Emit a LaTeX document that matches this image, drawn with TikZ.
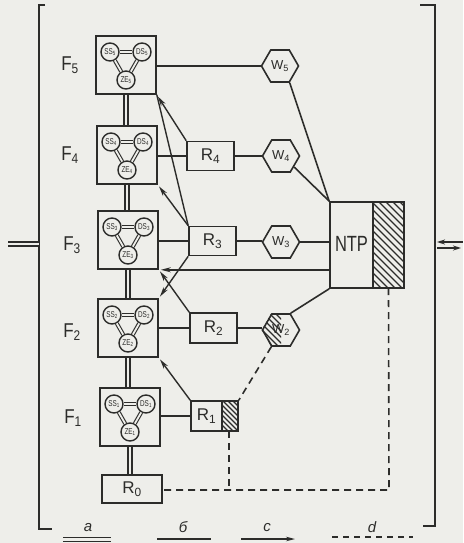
\documentclass[tikz,border=0pt]{standalone}
\usepackage{fontspec}
\setmainfont{Liberation Sans}
\usetikzlibrary{arrows.meta,shapes.geometric,calc}
\definecolor{paper}{HTML}{EEEEEA}
\definecolor{ink}{HTML}{2C2C2A}
\newcommand\cl[2]{\scalebox{0.75}[1]{#1\textsubscript{#2}}}
\newcommand\fblk[2]{%
  \node[fbox] (F#1) at (#2) {};
  \node[circ] (F#1s) at ($(F#1)+(-16,-13)$) {\cl{SS}{#1}};
  \node[circ] (F#1d) at ($(F#1)+(16,-13)$) {\cl{DS}{#1}};
  \node[circ] (F#1z) at ($(F#1)+(0,15)$) {\cl{ZE}{#1}};
  \draw[dblt] (F#1s) -- (F#1d);
  \draw[dblt] (F#1s) -- (F#1z);
  \draw[dblt] (F#1d) -- (F#1z);
}
\tikzset{
  ln/.style={draw=ink,line width=1.6pt},
  fbox/.style={draw=ink,line width=1.6pt,minimum width=60pt,minimum height=58pt,inner sep=0pt},
  rbox/.style={draw=ink,line width=1.6pt,minimum width=47pt,minimum height=29pt,inner sep=0pt,text=ink,font=\fontsize{17}{17}\selectfont},
  hexa/.style={draw=ink,line width=1.6pt,regular polygon,regular polygon sides=6,minimum size=37pt,inner sep=0pt,text=ink,font=\fontsize{13}{13}\selectfont},
  circ/.style={draw=ink,line width=1.4pt,circle,minimum size=18pt,inner sep=0pt,text=ink,font=\fontsize{8.5}{8.5}\selectfont},
  dbl/.style={draw=ink,line width=1.4pt,double=paper,double distance=2.4pt},
  dblt/.style={draw=ink,line width=1.1pt,double=paper,double distance=1.8pt},
  arr/.style={draw=ink,line width=1.4pt,-{Stealth[length=10pt,width=5pt]},shorten >=2pt},
  dsh/.style={draw=ink,line width=1.6pt,dash pattern=on 7pt off 5pt},
  flab/.style={font=\fontsize{20}{20}\selectfont,inner sep=0pt,text=ink},
  hatch/.style={draw=ink,line width=1.2pt},
  leg/.style={font=\fontsize{15}{15}\itshape,inner sep=0pt,text=ink},
}
\begin{document}
\begin{tikzpicture}[x=1pt,y=-1pt]
\useasboundingbox (0,0) rectangle (463,543);
\fill[paper] (0,0) rectangle (463,543);

% brackets
\draw[ln,line width=1.7pt] (45,5) -- (39,5) -- (39,529) -- (52,529);
\draw[ln,line width=1.7pt] (420,5) -- (435,5) -- (435,526) -- (423,526);
\draw[dbl] (8,244) -- (39,244);
\draw[ink,line width=1.4pt,{Stealth[length=8pt,width=5pt]}-] (437,242) -- (463,242);
\draw[ink,line width=1.4pt,-{Stealth[length=8pt,width=5pt]}] (437,248) -- (461,248);

% F blocks
\fblk{5}{126,65}
\fblk{4}{127,155}
\fblk{3}{128,240}
\fblk{2}{128,328}
\fblk{1}{130,417}
\node[rbox,minimum width=60pt,minimum height=28pt] (R0) at (132,489) {R\textsubscript{0}};

\node[flab] (lF5) at (70,65) {\scalebox{0.85}[1]{F\textsubscript{5}}};
\node[flab] (lF4) at (70,155) {\scalebox{0.85}[1]{F\textsubscript{4}}};
\node[flab] (lF3) at (72,245) {\scalebox{0.85}[1]{F\textsubscript{3}}};
\node[flab] (lF2) at (72,332) {\scalebox{0.85}[1]{F\textsubscript{2}}};
\node[flab] (lF1) at (73,418) {\scalebox{0.85}[1]{F\textsubscript{1}}};

\draw[dbl] (F5.south) -- (F5.south |- F4.north);
\draw[dbl] (F4.south) -- (F4.south |- F3.north);
\draw[dbl] (F3.south) -- (F3.south |- F2.north);
\draw[dbl] (F2.south) -- (F2.south |- F1.north);
\draw[dbl] (F1.south) -- (F1.south |- R0.north);

% R boxes
\node[rbox] (R4) at (210.5,156) {R\textsubscript{4}};
\node[rbox] (R3) at (212.5,241) {R\textsubscript{3}};
\node[rbox,minimum height=30pt] (R2) at (213.5,328) {R\textsubscript{2}};
\node[rbox,minimum height=30pt] (R1) at (214.5,416) {};
\node[font=\fontsize{17}{17}\selectfont,inner sep=0pt,text=ink] (R1t) at (206.5,416) {R\textsubscript{1}};
\begin{scope}
  \clip (222,401) rectangle (238,431);
  \foreach \a in {180,185,...,240} \draw[hatch] (\a,398) -- ++(40,40);
\end{scope}
\draw[ln] (222,401) -- (222,431);

% W hexagons
\node[hexa] (W5) at (280,66) {W\textsubscript{5}};
\node[hexa] (W4) at (281,156) {W\textsubscript{4}};
\node[hexa] (W3) at (281,242) {W\textsubscript{3}};
\node[hexa] (W2) at (281,330) {};
\begin{scope}
  \clip (W2.180) -- (W2.120) -- (W2.north) -- (W2.south) -- (W2.240) -- cycle;
  \foreach \a in {225,231,...,290} \draw[hatch] (\a,305) -- ++(50,50);
\end{scope}
\node[font=\fontsize{13}{13}\selectfont,inner sep=0pt,text=ink] (W2t) at (W2) {W\textsubscript{2}};

% NTP
\node[draw=ink,line width=1.6pt,minimum width=74pt,minimum height=86pt,inner sep=0pt] (NTP) at (367,245) {};
\begin{scope}
  \clip (373,202) rectangle (404,288);
  \foreach \a in {270,277,...,410} \draw[hatch] (\a,198) -- ++(95,95);
\end{scope}
\draw[ln] (373,202) -- (373,288);
\node[font=\fontsize{22}{22}\selectfont,inner sep=0pt,text=ink] (NTPt) at (351.5,244) {\scalebox{0.75}[1]{NTP}};

% horizontal connections
\draw[ln] (F5.east |- W5.west) -- (W5.west);
\draw[ln] (F4.east |- R4.west) -- (R4.west);
\draw[ln] (R4.east) -- (R4.east -| W4.west);
\draw[ln] (F3.east |- R3.west) -- (R3.west);
\draw[ln] (R3.east) -- (R3.east -| W3.west);
\draw[ln] (W3.east) -- (W3.east -| NTP.west);
\draw[ln] (F2.east |- R2.west) -- (R2.west);
\draw[ln] (R2.east) -- (R2.east -| W2.west);
\draw[ln] (F1.east |- R1.west) -- (R1.west);

% to NTP
\draw[ln] (W5.-60) -- (NTP.north west);
\draw[ln] (W4.-40) -- (NTP.north west);
\draw[ln] (W2.60) -- (NTP.south west);
\draw[arr] (NTP.west |- F3.south east) -- (F3.south east);

% regulator arrows
\draw[arr] (R4.north west) -- (F5.south east);
\draw[ln,line width=1.4pt] (R3.north west) -- (F5.south east);
\draw[arr] (R3.north west) -- (F4.south east);
\draw[arr] (R3.south west) -- (F2.north east);
\draw[arr] (R2.north west) -- (F3.south east);
\draw[arr] (R1.north west) -- (F2.south east);

% dashed links
\coordinate (hb) at (229,431);
\coordinate (J1) at (229,490);
\coordinate (J2) at (389,490);
\coordinate (nb) at (388.5,288);
\draw[dsh] (W2.240) -- (R1.north east);
\draw[dsh] (hb) -- (J1);
\draw[dsh] (nb) -- (J2) -- (R0.east |- J2);

% legend
\node[leg] (la) at (88,528) {a};
\draw[dbl] (63,539.5) -- (111,539.5);
\node[leg] (lb) at (183,527) {б};
\draw[ln,line width=1.4pt] (157,539) -- (211,539);
\node[leg] (lc) at (267,528) {c};
\draw[ink,line width=1.4pt,-{Stealth[length=9pt,width=4.5pt]}] (241,539) -- (295,539);
\node[leg] (ld) at (372,527) {d};
\draw[dsh,line width=1.4pt,dash pattern=on 6pt off 5pt] (332,537) -- (413,537);
\end{tikzpicture}
\end{document}
